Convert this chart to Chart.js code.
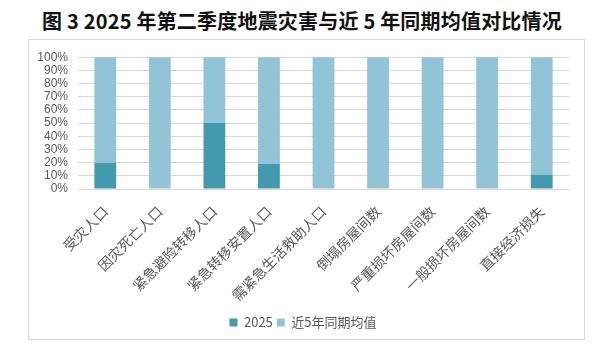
<!DOCTYPE html>
<html>
<head>
<meta charset="utf-8">
<script src="https://cdn.jsdelivr.net/npm/chart.js@4"></script>
<style>
  body { margin: 0; width: 600px; height: 353px; background: #fff; position: relative; overflow: hidden; }
  #title {
    position: absolute; left: 0; top: 7px; width: 604px; text-align: center; white-space: nowrap;
    font-family: "Noto Sans CJK SC", sans-serif; font-weight: bold; font-size: 20px;
    letter-spacing: 0.2px; color: #111; line-height: 28px;
  }
  #box {
    position: absolute; left: 28px; top: 39px; width: 555px; height: 299px;
    border: 1px solid #d9d9d9;
  }
</style>
</head>
<body>
<div id="title">图 3 2025 年第二季度地震灾害与近 5 年同期均值对比情况</div>
<div id="box"><canvas id="myChart" width="555" height="299"></canvas></div>
<script>
const categories = ['受灾人口', '因灾死亡人口', '紧急避险转移人口', '紧急转移安置人口', '需紧急生活救助人口', '倒塌房屋间数', '严重损坏房屋间数', '一般损坏房屋间数', '直接经济损失']
const share2025 = [20, 0, 50, 19, 0, 0, 0, 0, 11]
const shareAvg = [80, 100, 50, 81, 100, 100, 100, 100, 89]
const yTicks = [0, 10, 20, 30, 40, 50, 60, 70, 80, 90, 100]

new Chart('myChart', {
  type: 'bar',
  data: {
    labels: categories,
    datasets: [
      {label: '2025', data: share2025, backgroundColor: '#4399ae'},
      {label: '近5年同期均值', data: shareAvg, backgroundColor: '#93c4d6'},
    ],
  },
  options: {
    responsive: false,
    animation: false,
    barPercentage: 0.4,
    categoryPercentage: 1,
    layout: {padding: {top: 12, right: 15, left: 8, bottom: 0}},
    plugins: {
      legend: {
        position: 'bottom',
        labels: {
          boxWidth: 8, boxHeight: 8, padding: 4,
          color: '#595959',
          font: {family: '"Noto Sans CJK SC", sans-serif', size: 13},
        },
      },
      tooltip: {enabled: false},
    },
    scales: {
      x: {
        stacked: true,
        grid: {display: false},
        border: {color: '#d9d9d9'},
        afterFit: axis => { axis.height = 123 },
        ticks: {
          minRotation: 45, maxRotation: 45, padding: 6,
          color: '#595959',
          font: {family: '"Noto Sans CJK SC", sans-serif', size: 14},
        },
      },
      y: {
        stacked: true,
        min: 0, max: 100,
        afterBuildTicks: axis => { axis.ticks = yTicks.map(v => ({value: v})) },
        afterFit: axis => { axis.width = 41 },
        grid: {color: '#d9d9d9', drawTicks: false},
        border: {display: false},
        ticks: {
          autoSkip: false,
          padding: 10,
          color: '#595959',
          font: {family: 'Arial, "Liberation Sans", sans-serif', size: 12},
          callback: v => v + '%',
        },
      },
    },
  },
})
</script>
</body>
</html>
